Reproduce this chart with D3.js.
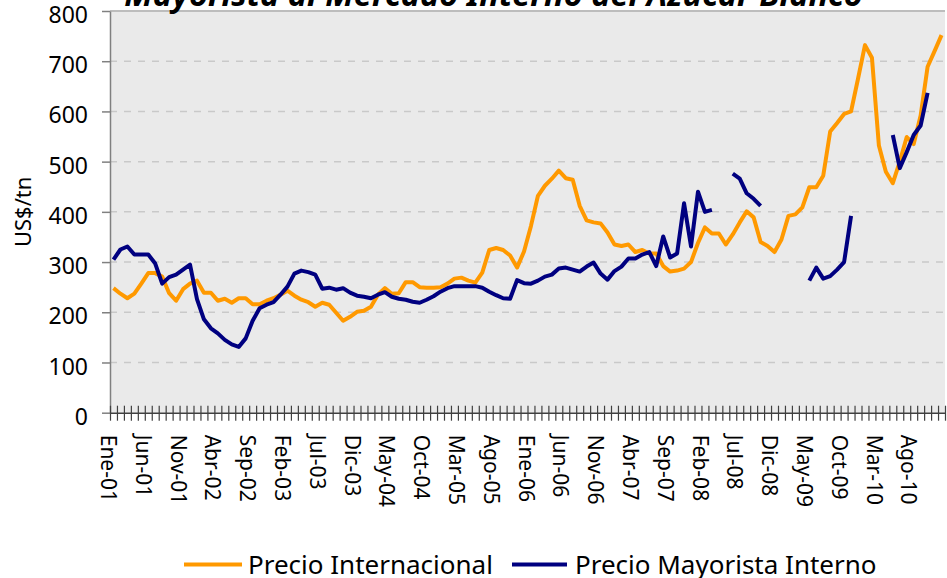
<!DOCTYPE html>
<html>
<head>
<meta charset="utf-8">
<script src="https://cdn.jsdelivr.net/npm/d3@7"></script>
<style>
  body { margin: 0; background: #fff; }
  svg { display: block; font-family: "Noto Sans", sans-serif; }
</style>
</head>
<body>
<div id="viz"></div>
<script>
// categories: one per month, Ene-01 .. Dic-10
var monthNames = ["Ene", "Feb", "Mar", "Abr", "May", "Jun", "Jul", "Ago", "Sep", "Oct", "Nov", "Dic"];
var years = ["01", "02", "03", "04", "05", "06", "07", "08", "09", "10"];
var months = [];
years.forEach(function (yy) {
  monthNames.forEach(function (m) { months.push(m + "-" + yy); });
});

// US$/tn
var precioInternacional = [
  248, 237, 228, 237, 257, 278, 278, 271, 238, 223, 246, 257,
  263, 239, 239, 223, 227, 219, 228, 228, 216, 216, 223, 228,
  235, 243, 233, 225, 220, 211, 219, 215, 199, 183, 191, 201,
  203, 211, 235, 248, 237, 238, 260, 260, 250, 249, 249, 250,
  257, 267, 269, 263, 259, 279, 324, 328, 324, 313, 289, 321,
  372, 432, 452, 466, 482, 467, 464, 412, 383, 379, 377, 359,
  335, 332, 335, 320, 324, 317, 317, 292, 281, 283, 287, 300,
  338, 369, 357, 357, 335, 355, 379, 401, 389, 340, 332, 320,
  345, 392, 395, 409, 449, 449, 472, 560, 577, 595, 600, 665,
  732, 707, 532, 480, 457, 500, 549, 535, 592, 689, 720, 752
];

var precioMayorista = [
  305, 325, 331, 315, 315, 315, 297, 257, 270, 275, 285, 295,
  226, 186, 168, 158, 145, 136, 131, 148, 183, 208, 215, 220,
  235, 251, 277, 283, 280, 275, 247, 249, 245, 248, 239, 233,
  231, 228, 235, 240, 231, 227, 225, 221, 219, 225, 232, 241,
  248, 252, 252, 252, 252, 249, 241, 234, 228, 227, 264, 258,
  257, 263, 271, 275, 287, 289, 285, 281, 291, 299, 277, 265,
  282, 291, 307, 307, 315, 320, 292, 351, 309, 317, 417, 331,
  440, 400, 404, null, null, 476, 466, 437, 426, 412, null, null,
  null, null, null, null, 263, 289, 267, 272, 285, 300, 392, null,
  null, null, null, null, 553, 487, 519, 553, 572, 637, null, null
];

var yTicks = [0, 100, 200, 300, 400, 500, 600, 700, 800];
var labelEvery = 5;
var seriesNames = ["Precio Internacional", "Precio Mayorista Interno"];
var seriesColors = ["#FF9900", "#000080"];
var titleText = "Mayorista al Mercado Interno del Azúcar Blanco";

// note: "top" is taken by window.top, so plot edges get their own names
var width = 947,
    height = 578,
    plotLeft = 110,
    plotRight = 945,
    plotTop = 11,
    plotBottom = 412.7;

var svg = d3.select("#viz")
  .append("svg")
    .attr("width", width)
    .attr("height", height);

var x = d3.scaleBand()
  .domain(months)
  .range([plotLeft, plotRight]);

var xEdge = d3.scaleLinear()
  .domain([0, months.length])
  .range([plotLeft, plotRight]);

var y = d3.scaleLinear()
  .domain([0, 800])
  .range([plotBottom, plotTop]);

// plot area
svg.append("rect")
  .attr("x", plotLeft)
  .attr("y", plotTop)
  .attr("width", plotRight - plotLeft)
  .attr("height", plotBottom - plotTop)
  .attr("fill", "#EAEAEA");

// gridlines
svg.append("g")
  .selectAll("line")
  .data(yTicks.filter(function (d) { return d > 0; }))
  .enter()
  .append("line")
    .attr("x1", plotLeft)
    .attr("x2", plotRight)
    .attr("y1", function (d) { return y(d); })
    .attr("y2", function (d) { return y(d); })
    .attr("stroke", function (d) { return d === 800 ? "#BDBDBD" : "#C9C9C9"; })
    .attr("stroke-width", function (d) { return d === 800 ? 2 : 1.5; })
    .attr("stroke-dasharray", function (d) { return d === 800 ? null : "7,7"; });

// y axis
var yAxis = svg.append("g")
  .attr("transform", "translate(" + plotLeft + ",0)")
  .call(d3.axisLeft(y).tickValues(yTicks).tickSize(8).tickSizeOuter(0).tickPadding(14));

yAxis.select(".domain").attr("stroke", "#808080").attr("stroke-width", 1.5);
yAxis.selectAll(".tick line").attr("stroke", "#808080").attr("stroke-width", 1.5);
yAxis.selectAll(".tick text")
  .attr("font-family", "Noto Sans")
  .attr("font-size", 23)
  .attr("fill", "#000")
  .attr("dy", "0.35em")
  .attr("y", 3.5);

// x axis: tick marks at month edges crossing the axis
var xTicks = svg.append("g")
  .attr("transform", "translate(0," + plotBottom + ")")
  .call(d3.axisBottom(xEdge).tickValues(d3.range(0, months.length + 1)).tickSize(8).tickSizeOuter(0).tickFormat(""));

xTicks.select(".domain").attr("stroke", "#404040").attr("stroke-width", 1.5);
xTicks.selectAll(".tick line")
  .attr("y1", -7)
  .attr("y2", 8)
  .attr("stroke", "#404040")
  .attr("stroke-width", 1.2);

// x labels, every 5 months
var xLabels = svg.append("g")
  .attr("transform", "translate(0," + plotBottom + ")")
  .call(d3.axisBottom(x)
    .tickValues(months.filter(function (d, i) { return i % labelEvery === 0; }))
    .tickSize(0));

xLabels.select(".domain").remove();
xLabels.selectAll(".tick text")
  .attr("font-family", "Noto Sans")
  .attr("font-size", 21)
  .attr("fill", "#000")
  .attr("text-anchor", "start")
  .attr("x", 0)
  .attr("y", 0)
  .attr("dy", "0.35em")
  .attr("transform", "translate(-5,22) rotate(90)");

// series
var line = d3.line()
  .defined(function (d) { return d != null; })
  .x(function (d, i) { return x(months[i]) + x.bandwidth() / 2; })
  .y(function (d) { return y(d); });

[precioInternacional, precioMayorista].forEach(function (s, k) {
  svg.append("path")
    .datum(s)
    .attr("fill", "none")
    .attr("stroke", seriesColors[k])
    .attr("stroke-width", 4)
    .attr("stroke-linejoin", "round")
    .attr("d", line);
});

// axis title
svg.append("text")
  .attr("transform", "translate(23," + y(400) + ") rotate(-90)")
  .attr("text-anchor", "middle")
  .attr("dy", "0.35em")
  .attr("font-size", 22)
  .text("US$/tn");

// title (only the lower line shows, cut by the top edge)
var title = svg.append("text")
  .attr("x", (124 + 863) / 2)
  .attr("y", 5.5)
  .attr("text-anchor", "middle")
  .attr("font-weight", "bold")
  .attr("font-style", "italic")
  .attr("font-size", 28)
  .text(titleText);
var tw = title.node().getComputedTextLength();
title.attr("font-size", 28 * 739 / tw);

// legend
var legendItems = [
  {sx: 184, ex: 242, tx: 248},
  {sx: 512, ex: 567, tx: 575}
];
var legend = svg.append("g")
  .selectAll("g")
  .data(seriesNames)
  .enter()
  .append("g");

legend.append("line")
  .attr("x1", function (d, i) { return legendItems[i].sx; })
  .attr("x2", function (d, i) { return legendItems[i].ex; })
  .attr("y1", 564.5)
  .attr("y2", 564.5)
  .attr("stroke", function (d, i) { return seriesColors[i]; })
  .attr("stroke-width", 4);

legend.append("text")
  .attr("x", function (d, i) { return legendItems[i].tx; })
  .attr("y", 565)
  .attr("dy", "0.35em")
  .attr("font-size", 26)
  .attr("fill", "#000")
  .text(function (d) { return d; });
</script>
</body>
</html>
